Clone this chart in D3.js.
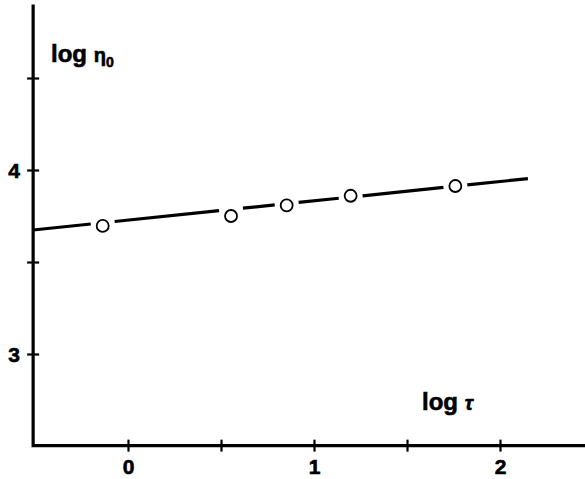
<!DOCTYPE html>
<html>
<head>
<meta charset="utf-8">
<script src="https://cdn.jsdelivr.net/npm/d3@7"></script>
<style>
    body { margin: 0; background: #fff; }
    text { font-family: "Liberation Sans", Arial, sans-serif; font-weight: bold; fill: #000; stroke: #000; stroke-width: 0.6px; }
</style>
</head>
<body>
<div id="chart"></div>
<script>
// data
let logTau = [-0.136, 0.554, 0.853, 1.197, 1.760];
let logEta = [3.696, 3.750, 3.808, 3.860, 3.913];

// fitted straight line, from the y axis to its right end
let fitTau = [-0.51, 2.15];
let fitEta = [3.674, 3.953];

let xTicks = [0, 0.5, 1, 1.5, 2];
let xTickLabels = ["0", "", "1", "", "2"];
let yTicks = [3, 3.5, 4, 4.5];
let yTickLabels = ["3", "", "4", ""];

// axis extents
let xExtent = [-0.51, 2.46];
let yExtent = [2.502, 4.9];

let width = 585, height = 479;

let svg = d3.select("#chart").append("svg")
    .attr("width", width)
    .attr("height", height);

// scales
let x = d3.scaleLinear().domain([0, 2]).range([128, 500]);
let y = d3.scaleLinear().domain([3, 4]).range([354, 170]);

// y axis
let yAxis = d3.axisLeft(y)
    .tickValues(yTicks)
    .tickSize(12)
    .tickPadding(8)
    .tickFormat((d, i) => yTickLabels[i]);

let gy = svg.append("g")
    .attr("transform", `translate(${x(xExtent[0])},0)`)
    .call(yAxis);
gy.select(".domain").remove();
gy.selectAll(".tick line")
    .attr("x1", 6)
    .attr("x2", -6)
    .attr("stroke-width", 2.2);
gy.selectAll(".tick text")
    .attr("x", -19)
    .attr("dy", "0.36em")
    .attr("text-anchor", "middle")
    .style("font-size", "21px")
    .style("font-weight", "bold")
    .style("font-family", "'Liberation Sans', Arial, sans-serif");

// x axis
let xAxis = d3.axisBottom(x)
    .tickValues(xTicks)
    .tickSize(12)
    .tickPadding(8)
    .tickFormat((d, i) => xTickLabels[i]);

let gx = svg.append("g")
    .attr("transform", `translate(0,${y(yExtent[0])})`)
    .call(xAxis);
gx.select(".domain").remove();
gx.selectAll(".tick line")
    .attr("y1", -6)
    .attr("y2", 6)
    .attr("stroke-width", 2.2);
gx.selectAll(".tick text")
    .attr("y", 13)
    .style("font-size", "21px")
    .style("font-weight", "bold")
    .style("font-family", "'Liberation Sans', Arial, sans-serif");

// axis lines drawn as an L
svg.append("path")
    .attr("d", d3.line()([
        [x(xExtent[0]), y(yExtent[1])],
        [x(xExtent[0]), y(yExtent[0])],
        [x(xExtent[1]), y(yExtent[0])]
    ]))
    .attr("fill", "none")
    .attr("stroke", "#000")
    .attr("stroke-width", 3.2);

// fitted line, broken round each circle
let slope = (fitEta[1] - fitEta[0]) / (fitTau[1] - fitTau[0]);
let onLine = t => [x(t), y(fitEta[0] + slope * (t - fitTau[0]))];

let stops = [fitTau[0]].concat(logTau, [fitTau[1]]);
let gap = 12;
let segments = [];
for (let i = 0; i < stops.length - 1; i++) {
    let a = onLine(stops[i]), b = onLine(stops[i + 1]);
    let dx = b[0] - a[0], dy = b[1] - a[1];
    let len = Math.sqrt(dx * dx + dy * dy);
    let ux = dx / len, uy = dy / len;
    let ga = i === 0 ? 0 : gap;
    let gb = i === stops.length - 2 ? 0 : gap;
    segments.push([[a[0] + ux * ga, a[1] + uy * ga], [b[0] - ux * gb, b[1] - uy * gb]]);
}

svg.selectAll(".fit")
    .data(segments)
    .enter().append("path")
    .attr("class", "fit")
    .attr("d", d => d3.line()(d))
    .attr("fill", "none")
    .attr("stroke", "#000")
    .attr("stroke-width", 3.2);

// data points
svg.selectAll(".pt")
    .data(logTau)
    .enter().append("circle")
    .attr("class", "pt")
    .attr("cx", d => x(d))
    .attr("cy", (d, i) => y(logEta[i]))
    .attr("r", 6)
    .attr("fill", "#fff")
    .attr("stroke", "#000")
    .attr("stroke-width", 1.8);

// axis titles
let yTitle = svg.append("text")
    .attr("x", 51)
    .attr("y", 62)
    .attr("font-size", 24);
yTitle.append("tspan").text("log ");
yTitle.append("tspan").attr("font-size", 20).text("η");
yTitle.append("tspan").attr("font-size", 14).attr("dy", 5).text("0");

let xTitle = svg.append("text")
    .attr("x", 422)
    .attr("y", 410)
    .attr("font-size", 24);
xTitle.append("tspan").text("log ");
xTitle.append("tspan").attr("font-style", "italic").attr("font-size", 20).text("τ");
</script>
</body>
</html>
